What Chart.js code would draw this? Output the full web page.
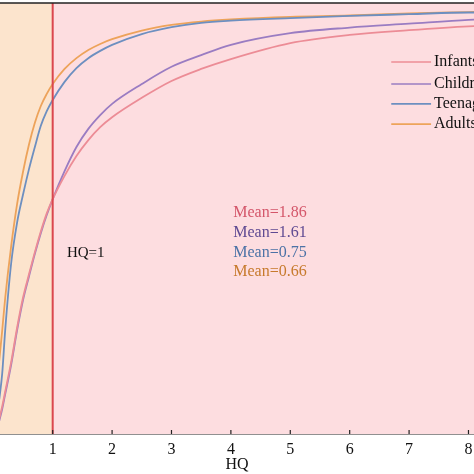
<!DOCTYPE html>
<html>
<head>
<meta charset="utf-8">
<script src="https://cdn.jsdelivr.net/npm/chart.js@4/dist/chart.umd.min.js"></script>
<style>
  html, body { margin: 0; padding: 0; background: #ffffff; }
  #wrap { width: 474px; height: 474px; position: relative; overflow: hidden; }
</style>
</head>
<body>
<div id="wrap"><canvas id="hqChart" width="474" height="474"></canvas></div>
<script>
// HQ grid (x) and cumulative probability for each age group
const hqValues = [0.1, 0.15, 0.2, 0.3, 0.4, 0.5, 0.6, 0.7, 0.8, 0.9, 1.0, 1.2, 1.4, 1.6, 1.8, 2.0, 2.5, 3.0, 3.5, 4, 5, 6, 7, 8, 8.2];

const infants   = [0.035, 0.064, 0.098, 0.166, 0.246, 0.316, 0.370, 0.422, 0.470, 0.512, 0.545, 0.599, 0.645, 0.682, 0.712, 0.735, 0.780, 0.819, 0.847, 0.870, 0.907, 0.926, 0.937, 0.946, 0.947];
const children  = [0.030, 0.058, 0.092, 0.160, 0.240, 0.310, 0.365, 0.418, 0.466, 0.508, 0.545, 0.610, 0.666, 0.708, 0.740, 0.766, 0.812, 0.852, 0.879, 0.903, 0.930, 0.943, 0.952, 0.961, 0.962];
const teenagers = [0.080, 0.140, 0.240, 0.395, 0.490, 0.555, 0.614, 0.666, 0.715, 0.749, 0.775, 0.817, 0.849, 0.872, 0.889, 0.903, 0.928, 0.944, 0.954, 0.959, 0.965, 0.970, 0.974, 0.978, 0.978];
const adults    = [0.170, 0.240, 0.315, 0.435, 0.533, 0.608, 0.671, 0.722, 0.761, 0.789, 0.812, 0.847, 0.872, 0.891, 0.905, 0.916, 0.936, 0.949, 0.957, 0.962, 0.968, 0.971, 0.976, 0.979, 0.980];

const seriesNames  = ['Infants', 'Children', 'Teenagers', 'Adults'];
const seriesColors = ['#ec8c96', '#9a7cc2', '#6d8fc0', '#eda35a'];
const meanLabels   = ['Mean=1.86', 'Mean=1.61', 'Mean=0.75', 'Mean=0.66'];
const meanColors   = ['#d4566a', '#5f4a92', '#4c72a6', '#c77a2c'];
const xTicks       = [1, 2, 3, 4, 5, 6, 7, 8];

const SERIF = '"Liberation Serif", "DejaVu Serif", serif';

(function () {
  const canvas = document.getElementById('hqChart');
  const ctx = canvas.getContext('2d');

  const allSeries = [infants, children, teenagers, adults];
  const datasets = allSeries.map((vals, i) => ({
    label: seriesNames[i],
    data: hqValues.map((x, k) => ({ x: x, y: vals[k] })),
    borderColor: seriesColors[i],
    borderWidth: 1.8,
    pointRadius: 0,
    fill: false,
    cubicInterpolationMode: 'monotone'
  }));

  // background regions, HQ=1 line, frame, inward ticks
  const backdrop = {
    id: 'backdrop',
    beforeDatasetsDraw(chart) {
      const { ctx, chartArea: a, scales: { x } } = chart;
      const x1 = x.getPixelForValue(1);
      ctx.save();
      ctx.fillStyle = '#fce4cd';
      ctx.fillRect(a.left, a.top, x1 - a.left, a.bottom - a.top);
      ctx.fillStyle = '#fddde0';
      ctx.fillRect(x1, a.top, a.right - x1, a.bottom - a.top);
      ctx.restore();
    },
    afterDatasetsDraw(chart) {
      const { ctx, chartArea: a, scales: { x, y } } = chart;
      ctx.save();
      // HQ = 1 line
      const x1 = x.getPixelForValue(1);
      ctx.strokeStyle = '#da464e';
      ctx.lineWidth = 2;
      ctx.beginPath();
      ctx.moveTo(x1, a.top);
      ctx.lineTo(x1, a.bottom);
      ctx.stroke();

      // top frame
      ctx.strokeStyle = '#222';
      ctx.lineWidth = 1.5;
      ctx.beginPath();
      ctx.moveTo(a.left, a.top);
      ctx.lineTo(a.right, a.top);
      ctx.stroke();

      // inward tick marks
      ctx.lineWidth = 1.2;
      xTicks.forEach(v => {
        const px = x.getPixelForValue(v);
        ctx.beginPath();
        ctx.moveTo(px, a.bottom);
        ctx.lineTo(px, a.bottom - 4);
        ctx.stroke();
      });

      // HQ=1 label
      ctx.fillStyle = '#111';
      ctx.font = '15px ' + SERIF;
      ctx.textBaseline = 'middle';
      ctx.textAlign = 'left';
      ctx.fillText('HQ=1', x.getPixelForValue(1.24), y.getPixelForValue(0.42));

      // mean values
      ctx.font = '16px ' + SERIF;
      const meanY = [0.513, 0.466, 0.420, 0.376];
      meanLabels.forEach((t, i) => {
        ctx.fillStyle = meanColors[i];
        ctx.fillText(t, x.getPixelForValue(4.04), y.getPixelForValue(meanY[i]));
      });

      // legend (inside plot, cut by right edge)
      const legY = [0.863, 0.812, 0.766, 0.719];
      seriesNames.forEach((n, i) => {
        const py = y.getPixelForValue(legY[i]);
        ctx.strokeStyle = seriesColors[i];
        ctx.lineWidth = 1.6;
        ctx.beginPath();
        ctx.moveTo(x.getPixelForValue(6.70), py);
        ctx.lineTo(x.getPixelForValue(7.37), py);
        ctx.stroke();
        ctx.fillStyle = '#111';
        ctx.fillText(n, x.getPixelForValue(7.42), py);
      });
      ctx.restore();
    }
  };

  new Chart(ctx, {
    type: 'line',
    data: { datasets },
    options: {
      responsive: false,
      animation: false,
      layout: { padding: { left: 0, right: 0, top: 3, bottom: 0 } },
      plugins: {
        legend: { display: false },
        tooltip: { enabled: false }
      },
      scales: {
        x: {
          type: 'linear',
          min: 0.113,
          max: 8.093,
          afterBuildTicks: (scale) => {
            scale.ticks = xTicks.map(v => ({ value: v }));
          },
          afterFit: (scale) => {
            scale.paddingLeft = 0;
            scale.paddingRight = 0;
            scale.height = 40;
          },
          grid: { display: true, drawOnChartArea: false, drawTicks: false },
          border: { display: true, color: '#222', width: 1.5 },
          ticks: {
            padding: 6,
            color: '#111',
            font: { family: SERIF, size: 16 },
            maxRotation: 0,
            callback: (v) => String(v)
          },
          title: {
            display: true,
            text: 'HQ',
            color: '#111',
            font: { family: SERIF, size: 16 },
            padding: { top: 0, bottom: 0 }
          }
        },
        y: {
          display: false,
          min: 0,
          max: 1
        }
      }
    },
    plugins: [backdrop]
  });
})();
</script>
</body>
</html>
